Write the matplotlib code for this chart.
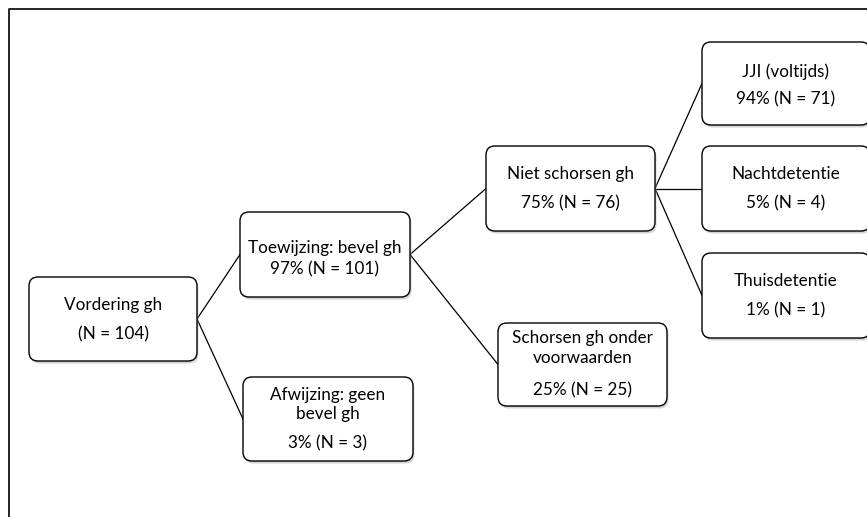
import matplotlib
matplotlib.use("Agg")
import matplotlib.pyplot as plt
from matplotlib.patches import FancyBboxPatch

plt.rcParams['font.family'] = ['Lato', 'DejaVu Sans']

# tree data
labels = ["Vordering gh", "Toewijzing: bevel gh", "Afwijzing: geen\nbevel gh",
          "Niet schorsen gh", "Schorsen gh onder\nvoorwaarden",
          "JJI (voltijds)", "Nachtdetentie", "Thuisdetentie"]
percents = [None, 97, 3, 75, 25, 94, 5, 1]
counts = [104, 101, 3, 76, 25, 71, 4, 1]
parents = [None, 0, 0, 1, 1, 3, 3, 3]

# layout in pixels: box (x0, y0, x1, y1) and y of each text line
boxes = [(29, 277, 197, 361), (240, 212, 410, 297), (243, 377, 413, 461),
         (486, 146, 655, 231), (498, 323, 667, 406),
         (702, 42, 870, 125), (702, 146, 870, 231), (702, 253, 870, 338)]
text_y = [[305, 334], [248, 269], [395, 414, 443], [174, 203],
          [338, 358, 390], [72, 99], [174, 203], [281, 310]]

W, H = 867, 517
fig = plt.figure(figsize=(W / 100, H / 100), dpi=100)
ax = fig.add_axes([0, 0, 1, 1])
ax.set_xlim(0, W)
ax.set_ylim(H, 0)
ax.axis('off')

# outer frame (only top and left edges visible)
ax.plot([9, 9, W + 5], [H + 5, 9, 9], color='black', lw=1.2, solid_capstyle='butt')

# connectors
for i, p in enumerate(parents):
    if p is None:
        continue
    px0, py0, px1, py1 = boxes[p]
    cx0, cy0, cx1, cy1 = boxes[i]
    ax.plot([px1, cx0], [(py0 + py1) / 2, (cy0 + cy1) / 2],
            color='black', lw=0.9, zorder=1)

for i, (x0, y0, x1, y1) in enumerate(boxes):
    shadow = FancyBboxPatch((x0 + 1.5, y0 + 2.5), x1 - x0, y1 - y0,
                            boxstyle="round,pad=0,rounding_size=9",
                            fc='#b8b8b8', ec='none', alpha=0.6, zorder=2)
    ax.add_patch(shadow)
    box = FancyBboxPatch((x0, y0), x1 - x0, y1 - y0,
                         boxstyle="round,pad=0,rounding_size=9",
                         fc='white', ec='black', lw=1.0, zorder=3)
    ax.add_patch(box)
    if percents[i] is None:
        last = "(N = %d)" % counts[i]
    else:
        last = "%d%% (N = %d)" % (percents[i], counts[i])
    lines = labels[i].split("\n") + [last]
    for line, y in zip(lines, text_y[i]):
        ax.text((x0 + x1) / 2, y, line, ha='center', va='center',
                fontsize=12.3, color='black', zorder=4)

fig.savefig("out.png", dpi=100)
